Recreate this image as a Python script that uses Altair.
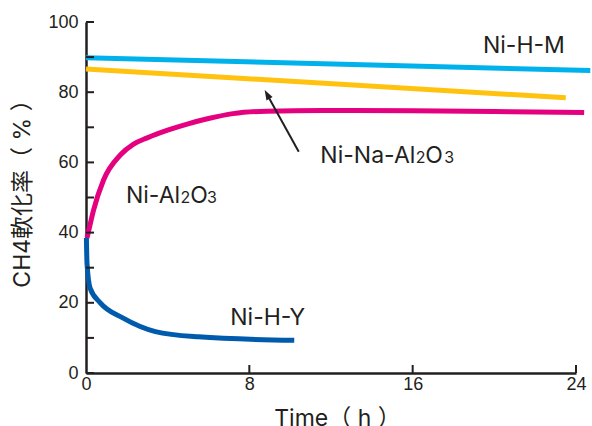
import altair as alt
import pandas as pd

# ---------------- data ----------------
series = ["Ni-H-M", "Ni-Na-Al2O3", "Ni-Al2O3", "Ni-H-Y"]
colors = ["#00b1eb", "#ffc20e", "#e5007f", "#005bac"]

hm_time = [0.0, 24.7]
hm_conv = [89.8, 86.2]
na_time = [0.0, 23.5]
na_conv = [86.6, 78.4]
al_time = [0.05, 0.15, 0.37, 0.86, 1.68, 2.33, 3.0, 4.0, 5.0, 6.0, 7.2, 8.85, 11.6, 16.0, 20.0, 24.4]
al_conv = [38.5, 41.0, 46.4, 55.0, 62.1, 65.2, 67.0, 69.2, 71.0, 72.5, 73.9, 74.6, 74.8, 74.7, 74.5, 74.2]
hy_time = [0.02, 0.05, 0.2, 0.7, 1.8, 3.4, 5.5, 10.2]
hy_conv = [38.5, 31.2, 24.2, 20.0, 15.7, 11.8, 10.3, 9.3]

x_ticks = [0, 8, 16, 24]
y_ticks = [0, 10, 20, 30, 40, 50, 60, 70, 80, 90, 100]
y_labels = [0, 20, 40, 60, 80, 100]

# annotation labels (text, x, y)
center_text = ["Ni-H-M", "Ni-H-Y"]
center_x = [21.45, 8.90]
center_y = [91.1, 13.7]
right_text = ["Ni-Na-Al", "Ni-Al"]
right_x = [16.13, 4.61]
right_y = [59.7, 48.4]
big_text = ["O", "O"]
big_x = [16.62, 5.10]
big_y = [59.7, 48.4]
sub_text = ["2", "3", "2", "3"]
sub_x = [16.15, 17.55, 4.63, 5.93]
sub_y = [59.7, 59.7, 48.4, 48.4]

# arrow (tail -> head)
arrow_x = [10.42]
arrow_y = [63.05]
arrow_x2 = [8.87]
arrow_y2 = [79.37]

# ---------------- build tables ----------------
rows = []
for name, ts, cs in zip(series, [hm_time, na_time, al_time, hy_time],
                        [hm_conv, na_conv, al_conv, hy_conv]):
    for i, (t, c) in enumerate(zip(ts, cs)):
        rows.append({"series": name, "time": t, "conv": c, "idx": i})
df = pd.DataFrame(rows)

INK = "#231f20"
LATIN = "Inter, Noto Sans CJK JP"

xscale = alt.Scale(domain=[0, 24], nice=False, zero=False)
yscale = alt.Scale(domain=[0, 100], nice=False, zero=False)

x_axis = alt.Axis(
    values=x_ticks, ticks=False, grid=False, domainColor=INK, domainWidth=2.5,
    labelFont="Liberation Sans", labelFontSize=18, labelColor=INK, labelPadding=2,
    labelFlush=False, labelOverlap=False,
    title="Time（ h ）", titleFont=LATIN, titleFontSize=23, titleFontWeight="normal",
    titleColor=INK, titleX=251, titleY=52, titleAlign="center",
    titleBaseline="alphabetic", titleAngle=0,
)
y_axis = alt.Axis(
    values=y_labels, ticks=False, grid=False, domainColor=INK, domainWidth=2.5,
    labelFont="Liberation Sans", labelFontSize=18, labelColor=INK, labelPadding=8,
    labelFlush=False, labelOverlap=False,
    title="CH4軟化率（ % ）", titleFont=LATIN, titleFontSize=23, titleFontWeight="normal",
    titleColor=INK, titleX=-64, titleY=165.5, titleAlign="center",
    titleBaseline="middle", titleAngle=270,
)

lines = alt.Chart(df).mark_line(
    strokeWidth=5, strokeCap="butt", interpolate="monotone", clip=False
).encode(
    x=alt.X("time:Q", scale=xscale, axis=x_axis),
    y=alt.Y("conv:Q", scale=yscale, axis=y_axis),
    color=alt.Color("series:N", scale=alt.Scale(domain=series, range=colors), legend=None),
    order="idx:Q",
)

ytick_df = pd.DataFrame({"v": y_ticks})
xtick_df = pd.DataFrame({"v": x_ticks[1:]})

yticks = alt.Chart(ytick_df).mark_rule(color=INK, strokeWidth=2).encode(
    y=alt.Y("v:Q", scale=yscale), x=alt.value(0), x2=alt.value(8)
)
xticks = alt.Chart(xtick_df).mark_rule(color=INK, strokeWidth=2).encode(
    x=alt.X("v:Q", scale=xscale), y=alt.value(351), y2=alt.value(343)
)

def text_layer(texts, xs, ys, size, align):
    d = pd.DataFrame({"t": texts, "x": xs, "y": ys})
    return alt.Chart(d).mark_text(
        font="Inter", fontSize=size, align=align, baseline="alphabetic", color=INK
    ).encode(
        x=alt.X("x:Q", scale=xscale), y=alt.Y("y:Q", scale=yscale), text="t:N"
    )

t_center = text_layer(center_text, center_x, center_y, 23, "center")
t_right = text_layer(right_text, right_x, right_y, 23, "right")
t_big = text_layer(big_text, big_x, big_y, 23, "left")
t_sub = text_layer(sub_text, sub_x, sub_y, 16, "left")

arrow_df = pd.DataFrame({"x": arrow_x, "y": arrow_y, "x2": arrow_x2, "y2": arrow_y2})
arrow_line = alt.Chart(arrow_df).mark_rule(color=INK, strokeWidth=2).encode(
    x=alt.X("x:Q", scale=xscale), y=alt.Y("y:Q", scale=yscale),
    x2="x2:Q", y2="y2:Q",
)
arrow_head = alt.Chart(arrow_df).mark_point(
    shape="M0,-1L0.7,1L-0.7,1Z", filled=True, color=INK, size=100, angle=331, opacity=1
).encode(
    x=alt.X("x2:Q", scale=xscale), y=alt.Y("y2:Q", scale=yscale)
)

chart = alt.layer(
    lines, yticks, xticks, arrow_line, arrow_head, t_center, t_right, t_big, t_sub
).properties(
    width=490, height=351,
    autosize=alt.AutoSizeParams(type="none"),
    padding={"left": 86, "top": 22, "right": 16, "bottom": 53},
    background="white",
).configure_view(stroke=None)

chart.save("out.html", embed_options={"renderer": "svg", "actions": False})
